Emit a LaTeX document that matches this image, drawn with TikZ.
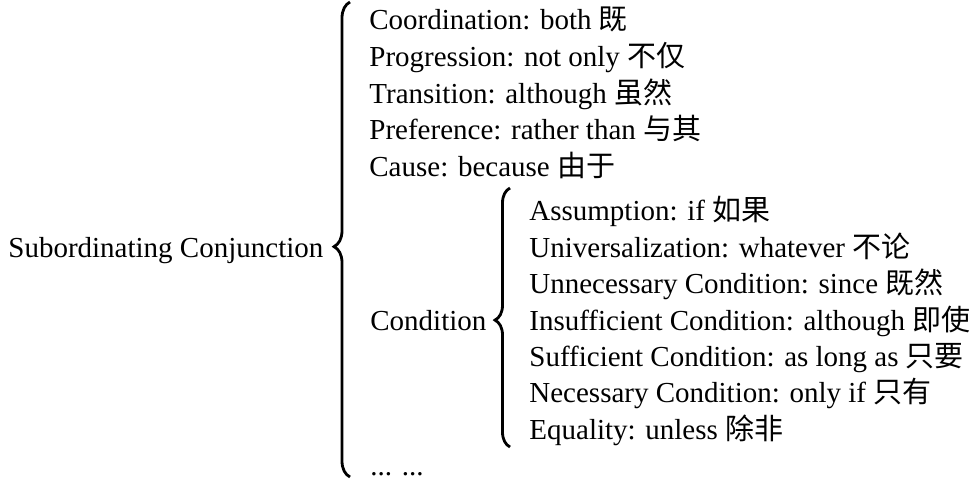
\documentclass[tikz,border=0pt]{standalone}
\usepackage{fontspec}
\setmainfont{Liberation Serif}
\newfontfamily\cjk{Noto Sans CJK SC}
\newcommand{\zh}[1]{{\cjk #1}}
\usetikzlibrary{decorations.pathreplacing}

\begin{document}
\begin{tikzpicture}[
        x=0.5pt, y=-0.5pt,
        item/.style={
            anchor=base west,
            inner sep=0pt,
            font=\fontsize{14.5}{18}\selectfont
        },
        curly/.style={
            decorate,
            line width=1.4pt
        }
    ]
        \useasboundingbox (0,0) rectangle (973,479);

        % Nodes
        \node[item] (conj) at (8,257) {Subordinating Conjunction};
        \node[item] (coord) at (369,29) {Coordination: both \zh{既}};
        \node[item] (prog) at (369,66) {Progression: not only \zh{不仅}};
        \node[item] (trans) at (369,103) {Transition: although \zh{虽然}};
        \node[item] (pref) at (369,139) {Preference: rather than \zh{与其}};
        \node[item] (cause) at (369,176) {Cause: because \zh{由于}};
        \node[item] (cond) at (370,330) {Condition};
        \node[item] (more) at (370,475) {... ...};

        \node[item] (assum) at (529,220) {Assumption: if \zh{如果}};
        \node[item] (univ) at (529,257) {Universalization: whatever \zh{不论}};
        \node[item] (unnec) at (529,293) {Unnecessary Condition: since \zh{既然}};
        \node[item] (insuf) at (529,330) {Insufficient Condition: although \zh{即使}};
        \node[item] (suff) at (529,366) {Sufficient Condition: as long as \zh{只要}};
        \node[item] (nec) at (529,402) {Necessary Condition: only if \zh{只有}};
        \node[item] (equal) at (529,439) {Equality: unless \zh{除非}};

        % Braces
        \coordinate (mainlo) at (350,477);
        \coordinate (mainhi) at (350,2);
        \coordinate (condlo) at (510,447);
        \coordinate (condhi) at (510,188);
        \draw[curly, decoration={brace, amplitude=8pt, aspect=0.485}] (mainlo) -- (mainhi);
        \draw[curly, decoration={brace, amplitude=7.5pt, aspect=0.49}] (condlo) -- (condhi);
    \end{tikzpicture}
\end{document}
